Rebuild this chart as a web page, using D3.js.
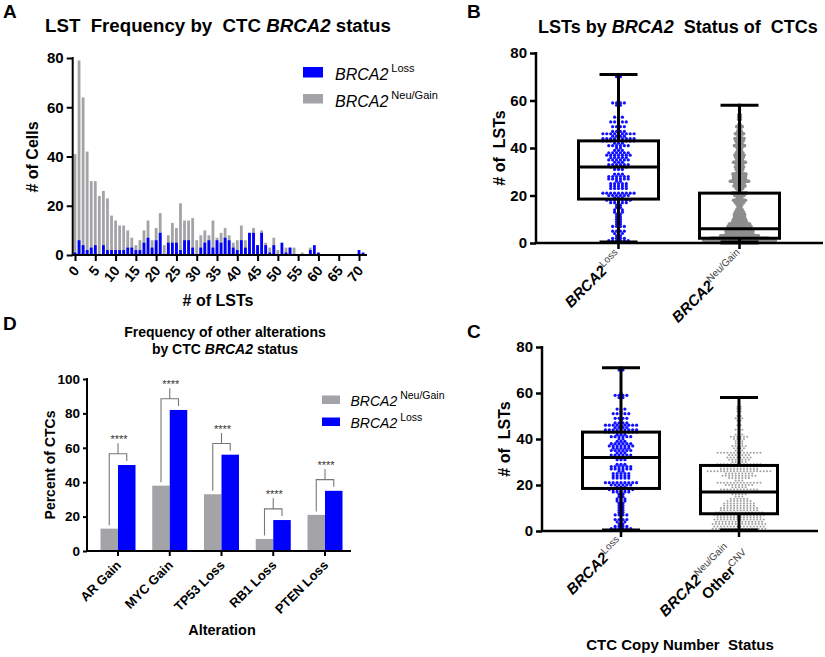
<!DOCTYPE html>
<html><head><meta charset="utf-8">
<script src="https://cdn.jsdelivr.net/npm/d3@7"></script>
<style>
body{margin:0;background:#fff}
svg{display:block}
text{font-family:"Liberation Sans",Arial,sans-serif;fill:#000}
</style></head>
<body><svg id="fig" width="825" height="657"></svg>
<script>
// ---------------- DATA ----------------
// Panel A: histogram of LST counts (bins 0..71)
const lstBins = d3.range(0, 72);
const lossCounts = [1,6,4,2,3,4,0,4,2,2, 2,2,2,3,3,2,2,5,7,3, 6,9,0,5,5,5,2,6,6,3, 0,3,5,6,3,6,5,7,6,3, 2,6,3,9,9,4,9,4,1,4, 0,5,1,3,0,0,0,0,2,4, 1,0,0,0,0,0,0,0,0,0, 2,1];
const neuCounts  = [41,79,64,42,30,30,24,26,23,16, 14,12,12,10,7,4,6,10,14,6, 11,17,4,8,13,11,21,14,14,15, 6,8,10,8,14,7,9,11,8,5, 6,12,6,9,11,4,10,5,3,7, 2,0,3,3,3,0,1,0,3,0, 0,0,0,0,0,0,0,0,0,0, 0,0];
const histXTicks = [0,5,10,15,20,25,30,35,40,45,50,55,60,65,70];
const histYTicks = [0,20,40,60,80];

// Panel B: box plots
const boxBMin = [0, 0];
const boxBQ1  = [18.5, 2];
const boxBMed = [32, 6];
const boxBQ3  = [43, 21];
const boxBMax = [71, 58];

// Panel C: box plots
const otherCnvCounts = [15,17,16,17,15,16,14,16,15,12, 12,10,10,8,6,3,5,9,12,5, 9,14,3,7,11,9,20,12,12,14, 5,7,8,7,14,3,4,5,3,3, 4,6,3,1,3,1,2,1,2,3, 2,0,2,2,2,0,1,0,1];
const boxCMin = [0, 0];
const boxCQ1  = [18.5, 7.5];
const boxCMed = [32, 17];
const boxCQ3  = [43, 28.5];
const boxCMax = [71, 58];
const lstYTicks = [0,20,40,60,80];

// Panel D: frequencies
const alterations = ["AR Gain","MYC Gain","TP53 Loss","RB1 Loss","PTEN Loss"];
const neuPct  = [13, 38, 33, 7, 21];
const lossPct = [50, 82, 56, 18, 35];
const pctTicks = [0,20,40,60,80,100];
const sigLabel = "****";

// ---------------- STYLE ----------------
const BLUE = "#0000ff", GRAY = "#a4a4a8";
const svg = d3.select("#fig");

function letter(x, y, t){ svg.append("text").attr("x",x).attr("y",y).attr("font-size",19).attr("font-weight","bold").text(t); }

function supText(g, x, y, main, sup, opts){
  const t = g.append("text").attr("x",x).attr("y",y).attr("font-size",opts.size)
    .attr("text-anchor",opts.anchor||"start");
  if (opts.transform) t.attr("transform",opts.transform);
  t.append("tspan").text(main).attr("font-style","italic").attr("font-weight",opts.bold?"bold":"normal");
  t.append("tspan").text(sup).attr("font-size",opts.supSize).attr("dx",opts.gap||0).attr("dy",-opts.raise)
    .style("fill",opts.supColor||"#000");
  return t;
}

// ================= PANEL A =================
letter(3, 18, "A");
{
  const g = svg.append("g");
  const t = g.append("text").attr("x",45).attr("y",32).attr("font-size",18.7).attr("font-weight","bold");
  t.append("tspan").text("LST\u00a0 Frequency by\u00a0 CTC ");
  t.append("tspan").text("BRCA2").attr("font-style","italic");
  t.append("tspan").text(" status");

  const x = d3.scaleLinear().domain([0,70]).range([75,359]);
  const y = d3.scaleLinear().domain([0,80]).range([255,58]);
  const bw = 2.8;
  g.selectAll("rect.neu").data(lstBins.filter(b=>neuCounts[b]>0)).join("rect")
    .attr("x",b=>x(b)-bw/2).attr("width",bw).attr("y",b=>y(neuCounts[b])).attr("height",b=>y(0)-y(neuCounts[b])).attr("fill",GRAY);
  g.selectAll("rect.loss").data(lstBins.filter(b=>lossCounts[b]>0)).join("rect")
    .attr("x",b=>x(b)-bw/2).attr("width",bw).attr("y",b=>y(lossCounts[b])).attr("height",b=>y(0)-y(lossCounts[b])).attr("fill",BLUE);

  // y axis
  const ya = g.append("g").attr("transform","translate(72.7,0)").call(d3.axisLeft(y).tickValues(histYTicks).tickSize(6).tickPadding(3));
  ya.select(".domain").remove();
  ya.selectAll(".tick line").attr("stroke","#000").attr("stroke-width",2);
  ya.selectAll(".tick text").attr("font-size",15).attr("font-weight","bold").attr("font-family","Liberation Sans, Arial");
  g.append("line").attr("x1",72.7).attr("x2",72.7).attr("y1",y(80)-1).attr("y2",y(0)+1).attr("stroke","#000").attr("stroke-width",2);
  // x axis
  const xa = g.append("g").attr("transform","translate(0,255)").call(d3.axisBottom(x).tickValues(histXTicks).tickSize(6).tickFormat(""));
  xa.select(".domain").remove();
  xa.selectAll(".tick line").attr("stroke","#000").attr("stroke-width",2);
  g.append("line").attr("x1",71.7).attr("x2",367).attr("y1",255).attr("y2",255).attr("stroke","#000").attr("stroke-width",2);
  g.selectAll("text.xt").data(histXTicks).join("text").attr("class","xt")
    .attr("transform",d=>`translate(${x(d)+5},${255+16}) rotate(-50)`)
    .attr("text-anchor","end").attr("font-size",14).attr("font-weight","bold").text(d=>d);
  g.append("text").attr("x",218).attr("y",306).attr("text-anchor","middle").attr("font-size",16).attr("font-weight","bold").text("# of LSTs");
  g.append("text").attr("transform","translate(38,157) rotate(-90)").attr("text-anchor","middle").attr("font-size",16).attr("font-weight","bold").text("# of Cells");

  // legend
  g.append("rect").attr("x",303).attr("y",67).attr("width",20).attr("height",10.5).attr("fill",BLUE);
  g.append("rect").attr("x",303).attr("y",94).attr("width",20).attr("height",9.5).attr("fill",GRAY);
  supText(g,335,80,"BRCA2","Loss",{size:16,supSize:11,raise:8,gap:3});
  supText(g,335,106.5,"BRCA2","Neu/Gain",{size:16,supSize:11,raise:8,gap:3});
}

// ================= box helper =================
function boxPanel(opts){
  const g = svg.append("g");
  const y = d3.scaleLinear().domain([0,80]).range([opts.y0, opts.y80]);
  // dots
  opts.groups.forEach(gr=>{
    const pts = [];
    gr.counts.forEach((n,v)=>{ for(let i=0;i<n;i++) pts.push({v, dx:(i-(n-1)/2)*gr.spacing}); });
    g.append("g").selectAll("circle").data(pts).join("circle")
      .attr("cx",p=>gr.cx+p.dx).attr("cy",p=>y(p.v)).attr("r",gr.r).attr("fill",gr.color);
  });
  // boxes
  opts.cx.forEach((cx,i)=>{
    const s = opts.stats, hw = opts.boxHalf, ch = opts.capHalf;
    const L = (x1,y1,x2,y2)=>g.append("line").attr("x1",x1).attr("y1",y1).attr("x2",x2).attr("y2",y2).attr("stroke","#000").attr("stroke-width",3);
    L(cx,y(s.max[i]),cx,y(s.q3[i]));
    L(cx,y(s.q1[i]),cx,y(s.min[i]));
    L(cx-ch,y(s.max[i]),cx+ch,y(s.max[i]));
    L(cx-ch,y(s.min[i])-1,cx+ch,y(s.min[i])-1);
    g.append("rect").attr("x",cx-hw).attr("y",y(s.q3[i])).attr("width",2*hw).attr("height",y(s.q1[i])-y(s.q3[i]))
      .attr("fill","none").attr("stroke","#000").attr("stroke-width",3);
    L(cx-hw,y(s.med[i]),cx+hw,y(s.med[i]));
  });
  // axes
  const ya = g.append("g").attr("transform",`translate(${opts.ax},0)`).call(d3.axisLeft(y).tickValues(lstYTicks).tickSize(6).tickPadding(3));
  ya.select(".domain").remove();
  ya.selectAll(".tick line").attr("stroke","#000").attr("stroke-width",2.5);
  ya.selectAll(".tick text").attr("font-size",15).attr("font-weight","bold").attr("font-family","Liberation Sans, Arial");
  g.append("line").attr("x1",opts.ax).attr("x2",opts.ax).attr("y1",y(80)-1).attr("y2",y(0)+1).attr("stroke","#000").attr("stroke-width",2.5);
  g.append("line").attr("x1",opts.ax-1).attr("x2",opts.axEnd).attr("y1",y(0)).attr("y2",y(0)).attr("stroke","#000").attr("stroke-width",2.5);
  opts.cx.forEach(cx=>g.append("line").attr("x1",cx).attr("x2",cx).attr("y1",y(0)).attr("y2",y(0)+6).attr("stroke","#000").attr("stroke-width",2.5));
  g.append("text").attr("transform",`translate(${opts.ylabX},${(opts.y0+opts.y80)/2}) rotate(-90)`).attr("text-anchor","middle")
    .attr("font-size",16).attr("font-weight","bold").text("# of\u00a0 LSTs");
  return {g,y};
}

// ================= PANEL B =================
letter(467, 18, "B");
{
  const t = svg.append("text").attr("x",538).attr("y",33).attr("font-size",18).attr("font-weight","bold");
  t.append("tspan").text("LSTs by ");
  t.append("tspan").text("BRCA2").attr("font-style","italic");
  t.append("tspan").text("\u00a0 Status of\u00a0 CTCs");
  const cx = [618.5, 739.5];
  const {g} = boxPanel({y0:243,y80:53,ax:536,axEnd:823,ylabX:505,cx,boxHalf:40,capHalf:19,
    stats:{min:boxBMin,q1:boxBQ1,med:boxBMed,q3:boxBQ3,max:boxBMax},
    groups:[{counts:lossCounts,cx:cx[0],spacing:3.9,r:1.6,color:"#1010ff"},
            {counts:neuCounts,cx:cx[1],spacing:0.92,r:1.8,color:"#8e8e8e"}]});
  supText(g,0,0,"BRCA2","Loss",{size:15,supSize:10,raise:6,bold:true,anchor:"end",supColor:"#444",transform:`translate(${cx[0]+4},257) rotate(-45)`});
  supText(g,0,0,"BRCA2","Neu/Gain",{size:15,supSize:10,raise:6,bold:true,anchor:"end",supColor:"#444",transform:`translate(${cx[1]+5},257) rotate(-45)`});
}

// ================= PANEL C =================
letter(467, 338, "C");
{
  const cx = [621, 739];
  const {g} = boxPanel({y0:531,y80:347,ax:542,axEnd:818,ylabX:510,cx,boxHalf:38.5,capHalf:19,
    stats:{min:boxCMin,q1:boxCQ1,med:boxCMed,q3:boxCQ3,max:boxCMax},
    groups:[{counts:lossCounts,cx:cx[0],spacing:3.9,r:1.6,color:"#1010ff"},
            {counts:otherCnvCounts,cx:cx[1],spacing:3.3,r:1.0,color:"#a0a0a0"}]});
  supText(g,0,0,"BRCA2","Loss",{size:15,supSize:10,raise:6,bold:true,anchor:"end",supColor:"#444",transform:`translate(${cx[0]+3},544) rotate(-45)`});
  supText(g,0,0,"BRCA2","Neu/Gain",{size:15,supSize:10,raise:6,bold:true,anchor:"end",supColor:"#444",transform:`translate(${cx[1]-7},551) rotate(-45)`});
  const t = g.append("text").attr("transform",`translate(${cx[1]+12},557) rotate(-45)`).attr("text-anchor","end").attr("font-size",15);
  t.append("tspan").text("Other").attr("font-weight","bold");
  t.append("tspan").text("CNV").attr("font-size",10).attr("dy",-6).style("fill","#444");
  g.append("text").attr("x",680).attr("y",650).attr("text-anchor","middle").attr("font-size",15).attr("font-weight","bold").text("CTC Copy Number\u00a0 Status");
}

// ================= PANEL D =================
letter(3, 330, "D");
{
  const g = svg.append("g");
  g.append("text").attr("x",225).attr("y",337).attr("text-anchor","middle").attr("font-size",14).attr("font-weight","bold").text("Frequency of other alterations");
  const t2 = g.append("text").attr("x",225).attr("y",354).attr("text-anchor","middle").attr("font-size",14).attr("font-weight","bold");
  t2.append("tspan").text("by CTC ");
  t2.append("tspan").text("BRCA2").attr("font-style","italic");
  t2.append("tspan").text(" status");

  const x = d3.scalePoint().domain(alterations).range([118,325]);
  const y = d3.scaleLinear().domain([0,100]).range([551,379]);
  const bw = 17.5;
  g.selectAll("rect.n").data(alterations).join("rect").attr("x",a=>x(a)-bw).attr("width",bw)
    .attr("y",(a,i)=>y(neuPct[i])).attr("height",(a,i)=>y(0)-y(neuPct[i])).attr("fill",GRAY);
  g.selectAll("rect.l").data(alterations).join("rect").attr("x",a=>x(a)).attr("width",bw)
    .attr("y",(a,i)=>y(lossPct[i])).attr("height",(a,i)=>y(0)-y(lossPct[i])).attr("fill",BLUE);

  // significance brackets
  alterations.forEach((a,i)=>{
    const xl = x(a)-bw/2, xr = x(a)+bw/2, xm = x(a);
    const top = y(Math.max(neuPct[i],lossPct[i])+6.5);
    const p = d3.path();
    p.moveTo(xl, y(neuPct[i]+2)); p.lineTo(xl, top); p.lineTo(xr, top); p.lineTo(xr, y(lossPct[i]+2.3));
    p.moveTo(xm, top); p.lineTo(xm, top-10.5);
    g.append("path").attr("d",p.toString()).attr("fill","none").attr("stroke","#777").attr("stroke-width",1.1);
    g.append("text").attr("x",xm+1).attr("y",top-11).attr("text-anchor","middle").attr("font-size",11)
      .style("fill","#333").text(sigLabel);
  });

  const ya = g.append("g").attr("transform","translate(87,0)").call(d3.axisLeft(y).tickValues(pctTicks).tickSize(4).tickPadding(3));
  ya.select(".domain").remove();
  ya.selectAll(".tick line").attr("stroke","#000").attr("stroke-width",2);
  ya.selectAll(".tick text").attr("font-size",13.5).attr("font-weight","bold").attr("font-family","Liberation Sans, Arial");
  g.append("line").attr("x1",87).attr("x2",87).attr("y1",y(100)-1).attr("y2",y(0)+1).attr("stroke","#000").attr("stroke-width",2);
  g.append("line").attr("x1",86).attr("x2",351).attr("y1",551).attr("y2",551).attr("stroke","#000").attr("stroke-width",2);
  alterations.forEach(a=>g.append("line").attr("x1",x(a)).attr("x2",x(a)).attr("y1",551).attr("y2",556).attr("stroke","#000").attr("stroke-width",2));
  g.selectAll("text.xl").data(alterations).join("text").attr("class","xl")
    .attr("transform",a=>`translate(${x(a)+4},${566}) rotate(-45)`).attr("text-anchor","end")
    .attr("font-size",13).attr("font-weight","bold").text(a=>a);
  g.append("text").attr("x",222).attr("y",635).attr("text-anchor","middle").attr("font-size",14.5).attr("font-weight","bold").text("Alteration");
  g.append("text").attr("transform","translate(55,465) rotate(-90)").attr("text-anchor","middle").attr("font-size",14).attr("font-weight","bold").text("Percent of CTCs");

  // legend
  g.append("rect").attr("x",322).attr("y",395.5).attr("width",18).attr("height",8.5).attr("fill",GRAY);
  g.append("rect").attr("x",322).attr("y",417.5).attr("width",18).attr("height",8.5).attr("fill",BLUE);
  supText(g,350.5,406,"BRCA2","Neu/Gain",{size:14,supSize:10.5,raise:7,gap:3});
  supText(g,350.5,428,"BRCA2","Loss",{size:14,supSize:10.5,raise:7,gap:3});
}
</script></body></html>
